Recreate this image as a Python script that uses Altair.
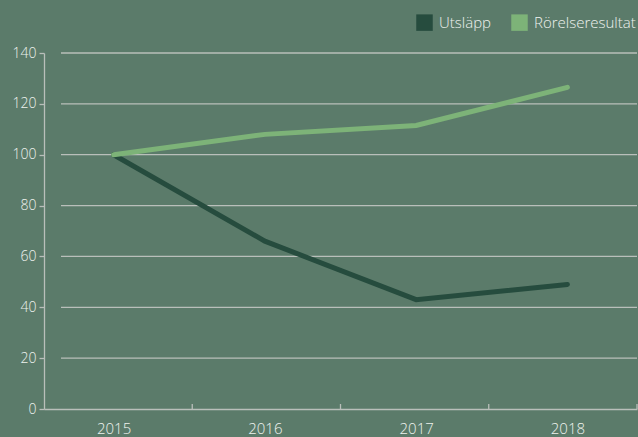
import altair as alt
import pandas as pd

years = ["2015", "2016", "2017", "2018"]
utslapp = [100, 66, 43, 49]
rorelseresultat = [100, 108, 111.5, 126.5]
series_names = ["Utsläpp", "Rörelseresultat"]
series_colors = ["#264c3e", "#7db378"]
y_ticks = [0, 20, 40, 60, 80, 100, 120, 140]

BG = "#5b7b6a"
AXIS = "#b9bfba"
TXT = "#eef2ee"
FONT = "Open Sans"
FW = 300

df = pd.DataFrame(
    {
        "year": years * 2,
        "value": utslapp + rorelseresultat,
        "series": [series_names[0]] * len(years) + [series_names[1]] * len(years),
    }
)
grid_df = pd.DataFrame({"v": y_ticks[1:]})
tick_df = pd.DataFrame({"year": years[1:]})
last_df = pd.DataFrame({"year": years[-1:]})

W, H = 593, 356

# points/labels sit on a point scale, tick marks on a band scale (as in the original)
pscale = alt.Scale(type="point", domain=years, padding=0.46)
bscale = alt.Scale(type="band", domain=years, paddingInner=0, paddingOuter=0)
yscale = alt.Scale(domain=[0, 140], nice=False)
cscale = alt.Scale(domain=series_names, range=series_colors)

grid = alt.Chart(grid_df).mark_rule(color=AXIS, strokeWidth=1.3).encode(
    y=alt.Y("v:Q", scale=yscale),
    x=alt.value(17),
    x2=alt.value(W),
)

x_enc = alt.X(
    "year:N",
    scale=pscale,
    axis=alt.Axis(
        title=None,
        labelAngle=0,
        ticks=False,
        labelPadding=12,
        labelFontSize=15,
        labelFontWeight=FW,
        labelColor=TXT,
        labelFont=FONT,
        domainColor=AXIS,
        domainWidth=1.3,
    ),
)
y_enc = alt.Y(
    "value:Q",
    scale=yscale,
    axis=alt.Axis(
        title=None,
        values=y_ticks,
        grid=False,
        tickSize=5,
        tickColor=AXIS,
        tickWidth=1.3,
        labelPadding=3,
        labelFontSize=14,
        labelFontWeight=FW,
        labelColor=TXT,
        labelFont=FONT,
        domainColor=AXIS,
        domainWidth=1.3,
    ),
)

lines = alt.Chart(df).mark_line(strokeWidth=5, strokeCap="round").encode(
    x=x_enc,
    y=y_enc,
    color=alt.Color("series:N", scale=cscale, legend=None),
)

legend_layer = alt.Chart(df).mark_square(size=0, filled=True, opacity=1).encode(
    x=alt.X("year:N", scale=pscale, axis=None),
    y=alt.Y("value:Q", scale=yscale),
    color=alt.Color(
        "series:N",
        scale=cscale,
        legend=alt.Legend(
            title=None,
            orient="none",
            direction="horizontal",
            legendX=372,
            legendY=-39,
            symbolType="square",
            symbolSize=272,
            symbolStrokeWidth=0,
            symbolOpacity=1,
            labelFontSize=15,
            labelFontWeight=FW,
            labelColor=TXT,
            labelFont=FONT,
            labelOffset=6,
            columnPadding=20,
        ),
    ),
)

xticks = alt.Chart(tick_df).mark_rule(color=AXIS, strokeWidth=1.3).encode(
    x=alt.X("year:N", scale=bscale, bandPosition=0, axis=None),
    y=alt.value(H - 5),
    y2=alt.value(H),
)
xlast = alt.Chart(last_df).mark_rule(color=AXIS, strokeWidth=1.3).encode(
    x=alt.X("year:N", scale=bscale, bandPosition=1, axis=None),
    y=alt.value(H - 5),
    y2=alt.value(H),
)

chart = (
    alt.layer(grid, xticks, xlast, lines, legend_layer)
    .resolve_scale(x="independent")
    .resolve_legend(color="independent")
    .properties(
        width=W,
        height=H,
        background=BG,
        padding={"left": 44, "top": 53, "right": 1, "bottom": 28},
        autosize=alt.AutoSizeParams(type="none"),
    )
    .configure_view(stroke=None)
)


class _PageTemplate:
    """Wraps Altair's standard HTML template to give the page the chart's background."""

    def __init__(self, base):
        self.base = base

    def render(self, **kw):
        html = self.base.render(**kw)
        return html.replace(
            "<style>",
            "<style>\n    html, body { background: " + BG + "; margin: 0; overflow: hidden; }",
            1,
        )


try:
    from altair.utils.html import HTML_TEMPLATE

    chart.save(
        "out.html",
        embed_options={"renderer": "svg", "actions": False},
        template=_PageTemplate(HTML_TEMPLATE),
    )
except Exception:
    chart.save("out.html", embed_options={"renderer": "svg", "actions": False})
